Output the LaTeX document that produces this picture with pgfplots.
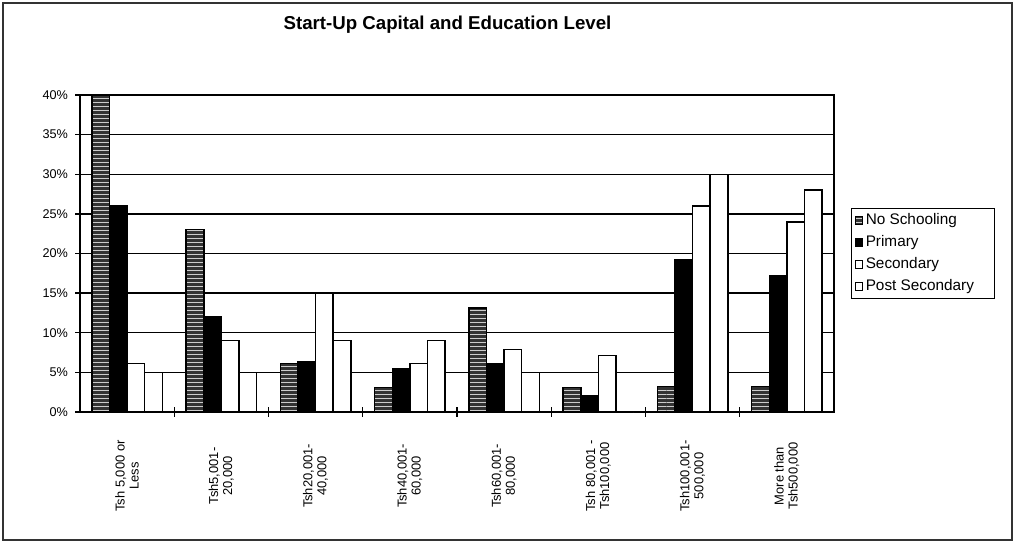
\documentclass[border=0pt]{standalone}
\usepackage{pgfplots}
\pgfplotsset{compat=1.18}
\usepackage{pgfplotstable}
\usepackage{fontspec}
\setmainfont{Liberation Sans}
\usetikzlibrary{patterns}

% start-up capital (rows) by education level (columns), in percent
\pgfplotstableread{
x   NS    P     S     PS
0   40.0  26.0  6.1   5.0
1   23.0  12.0  9.0   5.0
2   6.1   6.4   15.0  9.0
3   3.1   5.5   6.1   9.0
4   13.1  6.1   7.9   5.0
5   3.1   2.1   7.1   0.0
6   3.2   19.2  26.0  30.0
7   3.2   17.2  24.0  28.0
}\capdata

\begin{document}
\begin{tikzpicture}[x=1pt,y=1pt]
	\begin{axis}[
		at={(0,0)}, anchor=south west,
		scale only axis,
		width=565.5pt,
		height=237.75pt,
		xmin=-0.5, xmax=7.5,
		ymin=0, ymax=40,
		ybar=0pt,
		bar width=13.2pt,
		axis line style={line width=1pt},
		tick style={line width=1pt, black},
		tick align=center,
		xtick pos=bottom,
		ytick pos=left,
		/pgf/number format/assume math mode=true,
		ytick={0,5,...,40},
		yticklabel={\pgfmathprintnumber{\tick}\%},
		yticklabel style={font=\fontsize{9.5}{10}\selectfont, xshift=-2pt},
		ymajorgrids,
		grid style={line width=1pt, black},
		xtick={0.5,1.5,...,6.5},
		xticklabels={},
		major tick length=7pt,
		extra x ticks={0,...,7},
		extra x tick labels={{Tsh 5,000 or\\Less},{Tsh5,001-\\20,000},{Tsh20,001-\\40,000},{Tsh40,001-\\60,000},{Tsh60,001-\\80,000},{Tsh 80,001 -\\Tsh100,000},{Tsh100,001-\\500,000},{More than\\Tsh500,000}},
		extra x tick style={
			major tick length=0pt,
			grid=none,
			xticklabel style={yshift=-48pt, rotate=90, anchor=center, align=center,
				font=\fontsize{9.7}{10.5}\selectfont},
		},
		legend cell align=left,
		legend style={at={(1.0225,0.6435)}, anchor=north west,
			draw=black, line width=0.8pt,
			font=\fontsize{11.5}{13}\selectfont,
			inner xsep=2.5pt, inner ysep=2pt, row sep=2.6pt},
		legend image code/.code={\draw[#1, line width=0.6pt] (0pt,-2.8pt) rectangle (5.6pt,2.8pt);},
		title={\bfseries Start-Up Capital and Education Level},
		title style={at={(0.4874,1.1956)}, anchor=center, font=\fontsize{14}{16}\selectfont},
	]
	\addplot[draw=black, line width=1.1pt, fill=black!80,
		postaction={pattern=horizontal lines, pattern color=white!80!black}]
		table[x=x, y=NS] {\capdata};
	\addlegendentry{No Schooling}
	\addplot[draw=black, line width=1.1pt, fill=black]
		table[x=x, y=P] {\capdata};
	\addlegendentry{Primary}
	\addplot[draw=black, line width=1.1pt, fill=white]
		table[x=x, y=S] {\capdata};
	\addlegendentry{Secondary}
	\addplot[draw=black, line width=1.1pt, fill=white]
		table[x=x, y=PS] {\capdata};
	\addlegendentry{Post Secondary\rule{11pt}{0pt}}
	\end{axis}
	% outer frame of the chart
	\draw[line width=1.2pt, black!80] (-57.75,-96) rectangle (699,306.75);
	\path[use as bounding box] (-60,-101.25) rectangle (701.25,309);
\end{tikzpicture}
\end{document}
